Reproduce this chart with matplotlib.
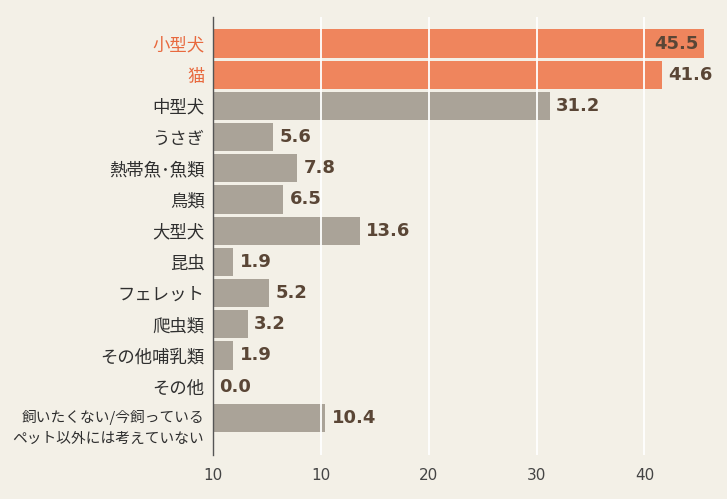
import matplotlib
matplotlib.use("Agg")
import matplotlib.pyplot as plt

categories = ["小型犬", "猫", "中型犬", "うさぎ", "熱帯魚･魚類", "鳥類", "大型犬", "昆虫",
              "フェレット", "爬虫類", "その他哺乳類", "その他",
              "飼いたくない/今飼っている\nペット以外には考えていない"]
values = [45.5, 41.6, 31.2, 5.6, 7.8, 6.5, 13.6, 1.9, 5.2, 3.2, 1.9, 0.0, 10.4]
highlight = [True, True] + [False] * 11
tick_values = [0, 10, 20, 30, 40]
tick_labels = ["10", "10", "20", "30", "40"]

plt.rcParams['font.family'] = ['Noto Sans CJK JP', 'DejaVu Sans']

BG = "#f3f0e7"
ORANGE = "#ef855d"
GRAY = "#aaa398"
ORANGE_TXT = "#e8693e"
LABEL_TXT = "#2f2f2f"
VAL_TXT = "#5a4636"

fig = plt.figure(figsize=(7.27, 4.99), dpi=100, facecolor=BG)
ax = fig.add_axes([213/727, 1 - 455/499, (713-213)/727, (455-17)/499])
ax.set_facecolor(BG)

ypos = list(range(len(categories)))
colors = [ORANGE if h else GRAY for h in highlight]
ax.barh(ypos, values, height=0.9, color=colors, zorder=1)

for x in tick_values[1:]:
    ax.axvline(x, color="white", lw=1.3, zorder=2)

ax.set_xlim(0, 46.35)
ax.set_ylim(13.19, -0.85)

for y, v in zip(ypos, values):
    if v > 44:
        ax.text(v - 0.5, y, f"{v:.1f}", ha="right", va="center", fontsize=13,
                fontweight="bold", color=VAL_TXT, family="DejaVu Sans", zorder=3)
    else:
        ax.text(v + 0.6, y, f"{v:.1f}", ha="left", va="center", fontsize=13,
                fontweight="bold", color=VAL_TXT, family="DejaVu Sans", zorder=3)

# category labels
ax.set_yticks(ypos)
ax.set_yticklabels([c if "\n" not in c else "" for c in categories], fontsize=12.5)
for lbl, h in zip(ax.get_yticklabels(), highlight):
    lbl.set_color(ORANGE_TXT if h else LABEL_TXT)
ax.tick_params(axis="y", length=0, pad=6)

# two-line label: first line aligned to its bar
for y, c in zip(ypos, categories):
    if "\n" in c:
        ax.annotate(c, xy=(0, y), xycoords=("axes fraction", "data"),
                    xytext=(-6.5, 5.5), textcoords="offset points",
                    ha="right", va="top", fontsize=10.6, linespacing=1.65,
                    color=LABEL_TXT, multialignment="right")

ax.set_xticks(tick_values)
ax.set_xticklabels(tick_labels, fontsize=11, color="#444444", family="DejaVu Sans")
ax.tick_params(axis="x", length=0, pad=9)

for s in ["top", "right", "bottom"]:
    ax.spines[s].set_visible(False)
ax.spines["left"].set_color("#555555")
ax.spines["left"].set_linewidth(1.0)
ax.spines["left"].set_zorder(4)

fig.savefig("out.png", dpi=100, facecolor=BG)
